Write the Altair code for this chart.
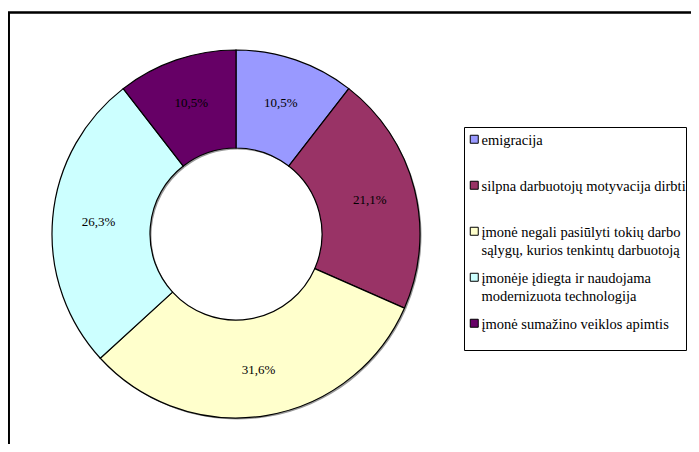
import altair as alt
import pandas as pd

categories = [
    "emigracija",
    "silpna darbuotojų motyvacija dirbti",
    "įmonė negali pasiūlyti tokių darbo|sąlygų, kurios tenkintų darbuotoją",
    "įmonėje įdiegta ir naudojama|modernizuota technologija",
    "įmonė sumažino veiklos apimtis",
]
values = [10.5, 21.1, 31.6, 26.3, 10.5]
labels = ["10,5%", "21,1%", "31,6%", "26,3%", "10,5%"]
colors = ["#9999FF", "#993366", "#FFFFCC", "#CCFFFF", "#660066"]

df = pd.DataFrame({
    "cat": categories,
    "value": values,
    "label": labels,
    "idx": list(range(len(values))),
})

CX, CY = 228, 226
R_OUT, R_IN = 184, 86
FONT = "Liberation Serif"

base = alt.Chart(df).encode(
    theta=alt.Theta("value:Q", stack=True),
    order=alt.Order("idx:Q"),
)

shadow = base.mark_arc(outerRadius=R_OUT, innerRadius=R_IN, color="#999999").encode(
    x=alt.value(CX + 1.5), y=alt.value(CY + 1.5)
)

arcs = base.mark_arc(outerRadius=R_OUT, innerRadius=R_IN, stroke="black", strokeWidth=1.2).encode(
    x=alt.value(CX), y=alt.value(CY),
    color=alt.Color(
        "cat:N",
        scale=alt.Scale(domain=categories, range=colors),
        sort=categories,
        legend=alt.Legend(
            title=None,
            orient="none",
            legendX=456,
            legendY=119,
            direction="vertical",
            symbolType="M-1,0.25L1,0.25L1,2.25L-1,2.25Z",
            symbolSize=64,
            symbolOffset=3,
            symbolStrokeColor="black",
            symbolStrokeWidth=1,
            labelFont=FONT,
            labelFontSize=14.5,
            labelColor="black",
            labelLimit=400,
            labelExpr="indexof(datum.label, '|') >= 0 ? split(datum.label, '|') : [datum.label, ' ']",
            labelBaseline="top",
            labelOffset=0,
            rowPadding=7,
            padding=0,
            strokeColor="black",
            fillColor="white",
        ),
    ),
)

texts = base.mark_text(radius=138, font=FONT, fontSize=13, color="black").encode(
    x=alt.value(CX), y=alt.value(CY),
    text="label:N",
)

frame_top = alt.Chart(df).mark_rule(color="black", strokeWidth=1.5).encode(
    x=alt.value(0), x2=alt.value(683), y=alt.value(4.5)
)
frame_left = alt.Chart(df).mark_rule(color="black", strokeWidth=1.5).encode(
    x=alt.value(0.75), y=alt.value(4), y2=alt.value(436)
)

chart = alt.layer(shadow, arcs, texts, frame_top, frame_left).properties(
    width=683, height=436,
    autosize=alt.AutoSizeParams(type="none"),
    padding=0,
).configure(
    background="white",
    style={"guide-label": {"lineHeight": 18}},
).configure_view(stroke=None)

chart.save("out.html", embed_options={"renderer": "svg", "actions": False})
